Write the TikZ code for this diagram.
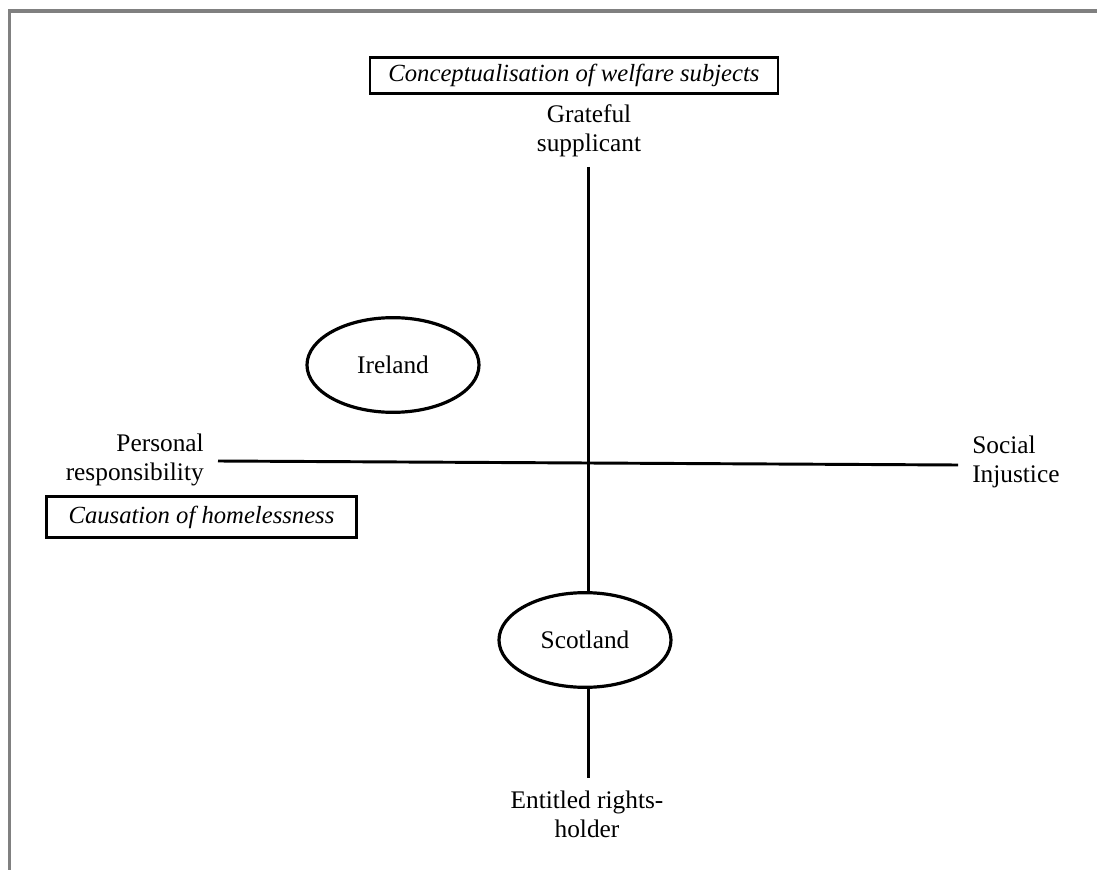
\documentclass[tikz,border=0pt]{standalone}
\usepackage{fontspec}
\setmainfont{Liberation Serif}
\usetikzlibrary{shapes.geometric}
\definecolor{framegray}{RGB}{128,128,128}
\tikzset{
  lbl/.style={font=\fontsize{19}{21.5}\selectfont, inner sep=0pt},
  catbox/.style={draw, line width=2.2pt, rectangle, font=\fontsize{18.5}{21.5}\selectfont\itshape, inner sep=0pt},
  country/.style={draw, line width=2.4pt, ellipse, font=\fontsize{19}{21.5}\selectfont, inner sep=0pt, minimum width=129pt, minimum height=71pt},
  axis/.style={line width=2.2pt},
  frameline/.style={draw=framegray, line width=2.4pt}
}
\begin{document}
\begin{tikzpicture}[x=0.75pt, y=-0.75pt]
\useasboundingbox (0,0) rectangle (1097,870);
% frame (top and left edges)
\draw[frameline] (8,11) -- (1097,11);
\draw[frameline] (9.5,10) -- (9.5,870);

% category boxes
\node[catbox, minimum width=306pt, minimum height=27.5pt] (ctop) at (574,75.5) {Conceptualisation of welfare subjects};
\node[catbox, minimum width=233pt, minimum height=30.5pt] (cbot) at (201.5,517) {Causation of homelessness};

% axis labels
\node[lbl, align=center] (grateful) at (589,131) {Grateful\\supplicant};
\node[lbl, align=right, anchor=east] (personal) at (204,460) {Personal\\responsibility};
\node[lbl, align=left, anchor=west] (social) at (972,462) {Social\\Injustice};
\node[lbl, align=center] (entitled) at (587,814) {Entitled rights-\\holder};

% countries
\node[country] (ireland) at (393,365) {Ireland};
\node[country] (scotland) at (585,640) {Scotland};

% axes
\coordinate (vtop) at (588.5,167);
\coordinate (vbot) at (588.5,778);
\coordinate (hleft) at (218,461);
\coordinate (hright) at (958,465);
\draw[axis] (hleft) -- (hright);
\draw[axis] (vtop) -- (vtop |- scotland.north);
\draw[axis] (vbot |- scotland.south) -- (vbot);
\end{tikzpicture}
\end{document}
